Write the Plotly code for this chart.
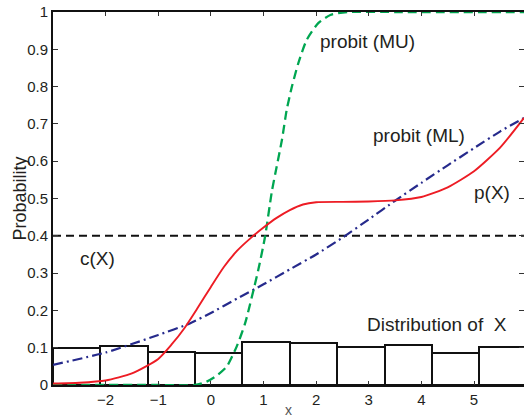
import plotly.graph_objects as go

# ---------------- data ----------------
bin_edges = [-3, -2.1, -1.2, -0.3, 0.6, 1.5, 2.4, 3.3, 4.2, 5.1, 6.0]
bin_heights = [0.098, 0.105, 0.089, 0.086, 0.114, 0.113, 0.102, 0.108, 0.087, 0.102]

mu_x = [-3, -1.0, -0.3, -0.08, 0.1, 0.30, 0.49, 0.65, 0.78, 0.90, 1.03, 1.16, 1.25, 1.35,
        1.44, 1.54, 1.66, 1.82, 2.04, 2.27, 2.6, 3.5, 6.0]
mu_y = [0.0, 0.0, 0.0, 0.009, 0.024, 0.049, 0.103, 0.165, 0.237, 0.308, 0.398, 0.52, 0.585,
        0.657, 0.737, 0.80, 0.862, 0.925, 0.970, 0.992, 1.0, 1.0, 1.0]

px_x = [-3, -2.5, -2.0, -1.5, -1.0, -0.75, -0.5, -0.25, 0.0, 0.25, 0.5, 0.75, 1.0, 1.25,
        1.5, 1.75, 2.0, 2.5, 3.0, 3.5, 4.0, 4.5, 5.0, 5.5, 5.95]
px_y = [0.004, 0.006, 0.012, 0.031, 0.070, 0.108, 0.153, 0.207, 0.263, 0.317, 0.360, 0.393,
        0.422, 0.448, 0.469, 0.484, 0.490, 0.491, 0.492, 0.495, 0.504, 0.530, 0.573, 0.637,
        0.716]

ml_x = [-3, -2, -1, -0.4, 0, 0.5, 1.0, 1.5, 2.0, 2.5, 3.0, 3.5, 4.0, 4.5, 5.0, 5.5, 5.95]
ml_y = [0.054, 0.087, 0.134, 0.165, 0.193, 0.232, 0.270, 0.310, 0.350, 0.395, 0.444, 0.494,
        0.542, 0.589, 0.635, 0.680, 0.716]

c_level = 0.4
c_x = [-3, 6]

x_ticks = [-2, -1, 0, 1, 2, 3, 4, 5]
y_ticks = [0, 0.1, 0.2, 0.3, 0.4, 0.5, 0.6, 0.7, 0.8, 0.9, 1]
y_ticktext = ["0", "0.1", "0.2", "0.3", "0.4", "0.5", "0.6", "0.7", "0.8", "0.9", "1"]

labels = [
    ("probit (MU)", 2.98, 0.92),
    ("probit (ML)", 3.96, 0.67),
    ("p(X)", 5.34, 0.515),
    ("c(X)", -2.16, 0.34),
    ("Distribution of  X", 4.30, 0.163),
]

# ---------------- figure ----------------
FONT = "Arial, Liberation Sans, Helvetica, sans-serif"
TXT = "#231F20"

centers = [(a + b) / 2 for a, b in zip(bin_edges[:-1], bin_edges[1:])]
widths = [b - a for a, b in zip(bin_edges[:-1], bin_edges[1:])]

fig = go.Figure()
fig.add_trace(go.Bar(x=centers, y=bin_heights, width=widths,
                     marker=dict(color="rgba(255,255,255,0)", line=dict(color="#111111", width=2)),
                     showlegend=False, hoverinfo="skip"))
fig.add_trace(go.Scatter(x=c_x, y=[c_level, c_level], mode="lines",
                         line=dict(color="#111111", width=2, dash="8px,5px"), showlegend=False))
fig.add_trace(go.Scatter(x=ml_x, y=ml_y, mode="lines",
                         line=dict(color="#262A8C", width=2.2, dash="10px,4px,2px,4px",
                                   shape="spline", smoothing=0.5), showlegend=False))
fig.add_trace(go.Scatter(x=mu_x, y=mu_y, mode="lines", line=dict(color="#00A651", width=2.3, dash="9px,5px",
                         shape="spline", smoothing=0.6), showlegend=False))
fig.add_trace(go.Scatter(x=px_x, y=px_y, mode="lines", line=dict(color="#ED1C24", width=1.9,
                         shape="spline", smoothing=0.6), showlegend=False))
fig.add_trace(go.Scatter(x=[None], y=[None], yaxis="y2", showlegend=False))

for t, x, y in labels:
    fig.add_annotation(x=x, y=y, xref="x", yref="y", text=t, showarrow=False,
                       font=dict(family=FONT, size=19, color=TXT), xanchor="center", yanchor="middle")

fig.add_annotation(x=(19 - 53) / 471, y=0.5, xref="paper", yref="paper", text="Probability",
                   textangle=-90, showarrow=False, font=dict(family=FONT, size=18, color=TXT),
                   xanchor="center", yanchor="middle")
fig.add_annotation(x=0.501, y=-0.066, xref="paper", yref="paper", text="x", showarrow=False,
                   font=dict(family=FONT, size=14, color="#555555"), xanchor="center", yanchor="middle")

fig.update_layout(
    width=524, height=417,
    margin=dict(l=53, r=0, t=12, b=32),
    paper_bgcolor="white", plot_bgcolor="white",
    bargap=0,
    xaxis=dict(range=[-3, 5.95], tickvals=x_ticks, ticks="inside", ticklen=4, tickwidth=1,
               tickcolor="#333333", showline=True, linecolor="#111111", linewidth=2, mirror="ticks",
               showgrid=False, zeroline=False, tickfont=dict(family=FONT, size=15, color=TXT)),
    yaxis=dict(range=[0, 1], tickvals=y_ticks, ticktext=y_ticktext, ticks="inside", ticklen=5,
               tickwidth=1, tickcolor="#333333", showline=True, linecolor="#111111", linewidth=2,
               showgrid=False, zeroline=False, tickfont=dict(family=FONT, size=15, color=TXT)),
    yaxis2=dict(range=[0, 1], overlaying="y", side="right", tickvals=y_ticks, ticks="inside",
                ticklen=5, tickwidth=1, tickcolor="#333333", showline=False, showticklabels=False,
                showgrid=False, zeroline=False),
)

fig.write_html("out.html", config={"displayModeBar": False},
               post_script="document.body.style.margin='0';document.body.style.overflow='hidden';")
